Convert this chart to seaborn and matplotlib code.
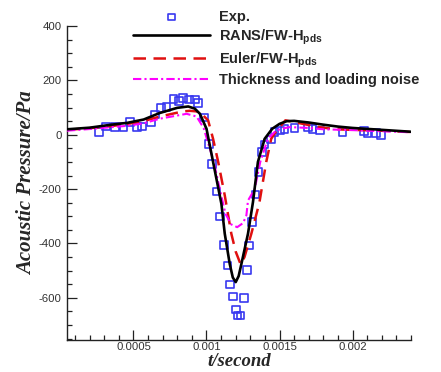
import numpy as np
import pandas as pd
import matplotlib
matplotlib.use("Agg")
import matplotlib.pyplot as plt
from matplotlib.ticker import MultipleLocator, FuncFormatter
import seaborn as sns

# ---------------- data ----------------
exp_t = [0.000266, 0.000314, 0.000375, 0.000432, 0.000477, 0.000523, 0.000557,
         0.000618, 0.000648, 0.000689, 0.000727, 0.000773, 0.000811, 0.000841,
         0.000882, 0.000920, 0.000943, 0.000982, 0.001018, 0.001036, 0.001068,
         0.001091, 0.001120, 0.001143, 0.001159, 0.001182, 0.001200, 0.001211,
         0.001234, 0.001257, 0.001277, 0.001291, 0.001311, 0.001336, 0.001357,
         0.001380, 0.001398, 0.001443, 0.001466, 0.001505, 0.001534, 0.001602,
         0.001693, 0.001727, 0.001777, 0.001932, 0.002080, 0.002102, 0.002159,
         0.002193]
exp_p = [10, 31, 28, 28, 47, 28, 31,
         47, 75, 98, 102, 131, 124, 136,
         129, 129, 117, 63, -33, -107, -209,
         -301, -405, -481, -551, -595, -643, -665,
         -665, -601, -497, -407, -321, -220, -137,
         -64, -36, -18, 10, 16, 22, 25,
         28, 22, 16, 10, 13, 6, 6,
         -2]

rans_t = [0.000045, 0.0002, 0.00035, 0.00046, 0.00057, 0.00068, 0.0008, 0.000875,
          0.00092, 0.000955, 0.001, 0.001034, 0.001068, 0.001102, 0.001125,
          0.001159, 0.00118, 0.0012, 0.00122, 0.001239, 0.001284, 0.001318,
          0.001352, 0.001398, 0.00145, 0.0015, 0.00155, 0.0016, 0.0017, 0.0018,
          0.0019, 0.002, 0.0022, 0.0024]
rans_p = [20, 26, 37, 44, 56, 80, 99, 104,
          96, 77, 22, -70, -162, -254, -364,
          -475, -525, -542, -520, -475, -364, -248,
          -100, -15, 22, 40, 50, 51, 45, 37,
          30, 25, 18, 11]

euler_t = [0.000045, 0.0002, 0.00035, 0.00046, 0.00057, 0.00068, 0.00084, 0.000886,
           0.00093, 0.00096, 0.001011, 0.001045, 0.00108, 0.001125, 0.00117,
           0.0012, 0.001234, 0.00126, 0.001307, 0.001362, 0.001409, 0.001443,
           0.00148, 0.001511, 0.00154, 0.00166, 0.00177, 0.00189, 0.002, 0.0022,
           0.0024]
euler_p = [18, 24, 32, 40, 50, 67, 86, 88,
           86, 80, 53, -15, -100, -223, -364,
           -430, -477, -450, -364, -250, -100, -15,
           15, 34, 53, 40, 28, 20, 18, 15,
           10]

thick_t = [0.000045, 0.0002, 0.00035, 0.00046, 0.00057, 0.00068, 0.000864,
           0.000932, 0.00098, 0.00105, 0.001091, 0.00113, 0.00117, 0.00121,
           0.00125, 0.001273, 0.001284, 0.00133, 0.001368, 0.00142, 0.001477,
           0.00153, 0.00157, 0.0017, 0.0018, 0.002, 0.0022, 0.0024]
thick_p = [15, 21, 28, 33, 42, 59, 77,
           67, 25, -100, -200, -291, -330, -340,
           -325, -297, -242, -200, -100, -15, 16,
           24, 28, 25, 20, 17, 13, 9]

labels = ["Exp.", r"RANS/FW-H$_{\mathbf{pds}}$", r"Euler/FW-H$_{\mathbf{pds}}$",
          "Thickness and loading noise"]

# ---------------- style ----------------
sns.set_style("ticks")
plt.rcParams["font.family"] = ["Liberation Sans", "DejaVu Sans"]
plt.rcParams["mathtext.fontset"] = "custom"
plt.rcParams["mathtext.bf"] = "Liberation Sans:bold"
plt.rcParams["mathtext.rm"] = "Liberation Sans"

fig = plt.figure(figsize=(4.41, 3.72), dpi=100)
ax = fig.add_axes([67 / 441, 1 - 340 / 372, (411 - 67) / 441, (340 - 26) / 372])

sns.scatterplot(x=exp_t, y=exp_p, ax=ax, marker="s", s=30,
                facecolor="none", edgecolor="#3838f0", linewidth=1.2,
                label=labels[0], zorder=2)
sns.lineplot(x=rans_t, y=rans_p, ax=ax, color="black", linewidth=1.9,
             label=labels[1], sort=False, estimator=None, zorder=4)
sns.lineplot(x=euler_t, y=euler_p, ax=ax, color="#e01010", linewidth=1.8,
             label=labels[2], sort=False, estimator=None, zorder=3)
sns.lineplot(x=thick_t, y=thick_p, ax=ax, color="#ff00ff", linewidth=1.5,
             label=labels[3], sort=False, estimator=None, zorder=3)
ax.lines[1].set_dashes([5, 3])
ax.lines[2].set_dashes([4, 1.5, 1, 1.5])

ax.set_xlim(0.000045, 0.0024)
ax.set_ylim(-755, 400)
ax.xaxis.set_major_locator(MultipleLocator(0.0005))
ax.xaxis.set_minor_locator(MultipleLocator(0.0001))
ax.yaxis.set_major_locator(MultipleLocator(200))
ax.yaxis.set_minor_locator(MultipleLocator(50))
ax.xaxis.set_major_formatter(FuncFormatter(lambda v, p: "%g" % v))
ax.yaxis.set_major_formatter(FuncFormatter(lambda v, p: "%d" % round(v)))

for s in ["top", "right"]:
    ax.spines[s].set_visible(False)
for s in ["left", "bottom"]:
    ax.spines[s].set_linewidth(1.0)
    ax.spines[s].set_color("#222222")
ax.tick_params(which="both", direction="in", top=False, right=False,
               labelsize=8.2, labelcolor="#333333", color="#222222", width=0.9)
ax.tick_params(which="major", length=7, pad=4)
ax.tick_params(axis="x", which="major", pad=1.5)
ax.tick_params(which="minor", length=3.5)

ax.set_xlabel("t/second", fontfamily="Liberation Serif", fontweight="bold",
              fontstyle="italic", fontsize=13.5, labelpad=0.5)
ax.set_ylabel("Acoustic Pressure/Pa", fontfamily="Liberation Serif",
              fontweight="bold", fontstyle="italic", fontsize=15, labelpad=1)

handles, labs = ax.get_legend_handles_labels()
leg = ax.legend(handles, labs, loc="upper left", frameon=False,
                bbox_to_anchor=(133 / 441, 1 - 10 / 372), bbox_transform=fig.transFigure,
                borderpad=0, borderaxespad=0, handlelength=5.3, handletextpad=0.6,
                labelspacing=0.22, prop={"family": "Liberation Sans", "weight": "bold", "size": 10.5})
for h in leg.legend_handles[:1]:
    h.set_sizes([22])

fig.savefig("out.png", dpi=100)
